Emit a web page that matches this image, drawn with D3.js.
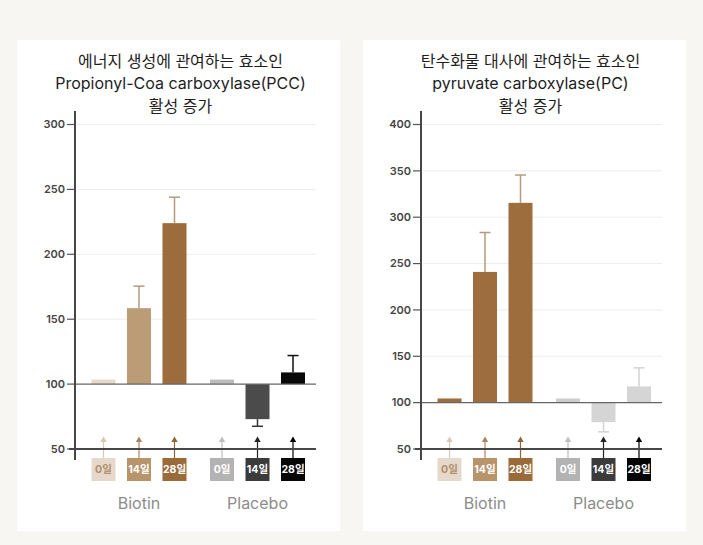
<!DOCTYPE html>
<html lang="ko">
<head>
<meta charset="utf-8">
<script src="https://cdn.jsdelivr.net/npm/d3@7"></script>
<style>
  html, body { margin: 0; padding: 0; background: #f8f6f3; }
  svg { display: block; font-family: Inter, "Noto Sans CJK KR", sans-serif; }
  .panel { fill: #fff; }
  .title { font-size: 16px; fill: #1e1e1e; text-anchor: middle; }
  .tick-text { font-size: 11px; font-weight: 600; fill: #454545; text-anchor: end; }
  .grid { stroke: #ededed; stroke-width: 1; }
  .axis-line { stroke: #474747; stroke-width: 2; }
  .base-line { stroke: #666; stroke-width: 1.2; }
  .day-text { font-size: 10.5px; font-weight: 700; text-anchor: middle; }
  .group-text { font-size: 16px; fill: #8c8c8c; text-anchor: middle; }
</style>
</head>
<body>
<svg id="chart" width="703" height="545"></svg>
<script>
const GROUPS = ["Biotin", "Placebo"];
const DAYS = ["0일", "14일", "28일"];

const PCC_TITLE = ["에너지 생성에 관여하는 효소인", "Propionyl-Coa carboxylase(PCC)", "활성 증가"];
const PCC_TICKS = [50, 100, 150, 200, 250, 300];
const PCC_VALUES = [103.5, 158.5, 224, 103.5, 73, 109];
const PCC_ERRORS = [0, 17, 20, 0, 5.5, 13];

const PC_TITLE = ["탄수화물 대사에 관여하는 효소인", "pyruvate carboxylase(PC)", "활성 증가"];
const PC_TICKS = [50, 100, 150, 200, 250, 300, 350, 400];
const PC_VALUES = [104.5, 241, 315.5, 104.5, 79, 117.5];
const PC_ERRORS = [0, 42.5, 30, 0, 10.5, 20];

// colours per bar, Biotin 0/14/28 then Placebo 0/14/28
const PCC_BAR_COLORS = ["#e6d9ca", "#bc9b77", "#9c6c3c", "#bdbdbd", "#4b4b4b", "#080808"];
const PCC_ERR_COLORS = ["#c9b39c", "#b59a7e", "#b59a7e", "#aaa", "#333", "#111"];
const PC_BAR_COLORS = ["#9e6d3d", "#9e6d3d", "#9e6d3d", "#cdcdcd", "#d5d5d5", "#d5d5d5"];
const PC_ERR_COLORS = ["#b59a7e", "#b59a7e", "#b59a7e", "#cfcfcf", "#d2d2d2", "#d2d2d2"];
const BOX_COLORS = ["#e6d9cb", "#b8946b", "#9a6a38", "#b3b3b3", "#3b3b3b", "#050505"];
const BOX_TEXT = ["#b08f6e", "#fff", "#fff", "#fff", "#fff", "#fff"];
const ARROW_COLORS = ["#d8c8b6", "#a88560", "#8f6437", "#bdbdbd", "#222", "#000"];

const svg = d3.select("#chart");

const panelTop = 40;
const panelHeight = 491;
const panelWidth = 323;
const axisOffset = 58;
const plotWidth = 241;
const yBottom = 449;
const yTop = 124.5;

drawPanel({
  left: 17, titleX: 180.5, title: PCC_TITLE, ticks: PCC_TICKS,
  values: PCC_VALUES, errors: PCC_ERRORS, barColors: PCC_BAR_COLORS, errColors: PCC_ERR_COLORS
});
drawPanel({
  left: 363, titleX: 530.5, title: PC_TITLE, ticks: PC_TICKS,
  values: PC_VALUES, errors: PC_ERRORS, barColors: PC_BAR_COLORS, errColors: PC_ERR_COLORS
});

function drawPanel(cfg) {
  const g = svg.append("g");
  const axisX = cfg.left + axisOffset;

  g.append("rect")
    .attr("class", "panel")
    .attr("x", cfg.left)
    .attr("y", panelTop)
    .attr("width", panelWidth)
    .attr("height", panelHeight);

  g.selectAll(".title")
    .data(cfg.title)
    .join("text")
    .attr("class", "title")
    .attr("x", cfg.titleX)
    .attr("y", (d, i) => 61 + i * 22.8)
    .attr("dy", "0.35em")
    .text(d => d);

  const y = d3.scaleLinear()
    .domain([50, d3.max(cfg.ticks)])
    .range([yBottom, yTop]);

  const groupX = d3.scaleBand()
    .domain(GROUPS)
    .range([axisX + 10.75, axisX + 235.75])
    .paddingInner(0.1013)
    .paddingOuter(0);

  const dayX = d3.scaleBand()
    .domain(DAYS)
    .range([0, groupX.bandwidth()])
    .paddingInner(0.324)
    .paddingOuter(0.162);

  const rows = GROUPS.flatMap((group, gi) => DAYS.map((day, di) => {
    const i = gi * DAYS.length + di;
    return {
      group, day, i,
      value: cfg.values[i],
      error: cfg.errors[i],
      x: groupX(group) + dayX(day),
      cx: groupX(group) + dayX(day) + dayX.bandwidth() / 2
    };
  }));

  // grid lines
  g.selectAll(".grid")
    .data(cfg.ticks.filter(t => t > 100))
    .join("line")
    .attr("class", "grid")
    .attr("x1", axisX + 2)
    .attr("x2", axisX + plotWidth)
    .attr("y1", d => y(d))
    .attr("y2", d => y(d));

  // tick marks and labels
  g.selectAll(".tick-mark")
    .data(cfg.ticks)
    .join("line")
    .attr("class", "tick-mark")
    .attr("stroke", "#555")
    .attr("stroke-width", 1.2)
    .attr("x1", axisX - 8)
    .attr("x2", axisX)
    .attr("y1", d => y(d))
    .attr("y2", d => y(d));

  g.selectAll(".tick-text")
    .data(cfg.ticks)
    .join("text")
    .attr("class", "tick-text")
    .attr("x", axisX - 10)
    .attr("y", d => y(d))
    .attr("dy", "0.35em")
    .text(d => d);

  // bars
  g.selectAll(".bar")
    .data(rows)
    .join("rect")
    .attr("class", "bar")
    .attr("x", d => d.x)
    .attr("width", dayX.bandwidth())
    .attr("y", d => Math.min(y(d.value), y(100)))
    .attr("height", d => Math.abs(y(d.value) - y(100)))
    .attr("fill", d => cfg.barColors[d.i]);

  // error bars
  const errRows = rows.filter(d => d.error > 0);
  const errEnd = d => d.value >= 100 ? d.value + d.error : d.value - d.error;

  g.selectAll(".err")
    .data(errRows)
    .join("line")
    .attr("class", "err")
    .attr("stroke", d => cfg.errColors[d.i])
    .attr("stroke-width", 1.5)
    .attr("x1", d => d.cx)
    .attr("x2", d => d.cx)
    .attr("y1", d => y(d.value))
    .attr("y2", d => y(errEnd(d)));

  g.selectAll(".err-cap")
    .data(errRows)
    .join("line")
    .attr("class", "err-cap")
    .attr("stroke", d => cfg.errColors[d.i])
    .attr("stroke-width", 1.5)
    .attr("x1", d => d.cx - 5.5)
    .attr("x2", d => d.cx + 5.5)
    .attr("y1", d => y(errEnd(d)))
    .attr("y2", d => y(errEnd(d)));

  // baseline at 100
  g.append("line")
    .attr("class", "base-line")
    .attr("x1", axisX)
    .attr("x2", axisX + plotWidth)
    .attr("y1", y(100))
    .attr("y2", y(100));

  // arrows from day boxes
  g.selectAll(".arrow-shaft")
    .data(rows)
    .join("line")
    .attr("class", "arrow-shaft")
    .attr("stroke", d => ARROW_COLORS[d.i])
    .attr("stroke-width", 1.2)
    .attr("x1", d => d.cx)
    .attr("x2", d => d.cx)
    .attr("y1", 441)
    .attr("y2", 458);

  g.selectAll(".arrow-head")
    .data(rows)
    .join("path")
    .attr("class", "arrow-head")
    .attr("fill", d => ARROW_COLORS[d.i])
    .attr("d", d => `M${d.cx},436.5 L${d.cx - 3.2},442 L${d.cx + 3.2},442 Z`);

  // x axis at 50 and y axis
  g.append("line")
    .attr("class", "axis-line")
    .attr("x1", axisX - 6)
    .attr("x2", axisX + plotWidth)
    .attr("y1", y(50))
    .attr("y2", y(50));

  g.append("line")
    .attr("class", "axis-line")
    .attr("x1", axisX)
    .attr("x2", axisX)
    .attr("y1", 111)
    .attr("y2", 460);

  // day boxes
  g.selectAll(".day-box")
    .data(rows)
    .join("rect")
    .attr("class", "day-box")
    .attr("x", d => d.x)
    .attr("y", 458)
    .attr("width", dayX.bandwidth())
    .attr("height", 23)
    .attr("fill", d => BOX_COLORS[d.i]);

  g.selectAll(".day-text")
    .data(rows)
    .join("text")
    .attr("class", "day-text")
    .attr("x", d => d.cx)
    .attr("y", 469.5)
    .attr("dy", "0.35em")
    .attr("fill", d => BOX_TEXT[d.i])
    .text(d => d.day);

  g.selectAll(".group-text")
    .data(GROUPS)
    .join("text")
    .attr("class", "group-text")
    .attr("x", d => groupX(d) + groupX.bandwidth() / 2)
    .attr("y", 503.5)
    .attr("dy", "0.35em")
    .text(d => d);
}
</script>
</body>
</html>
